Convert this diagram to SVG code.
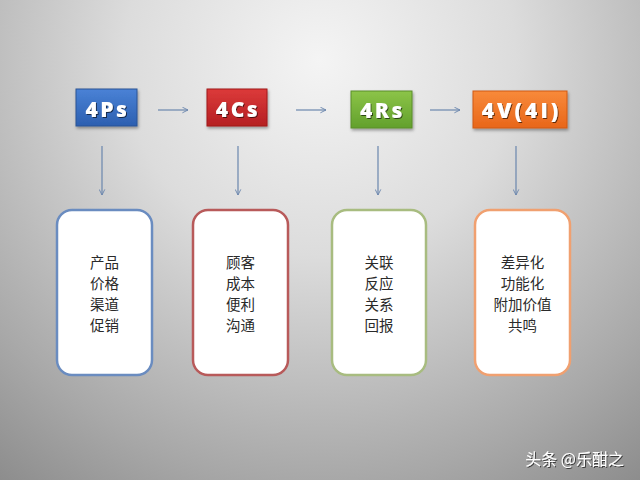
<svg xmlns="http://www.w3.org/2000/svg" width="640" height="480" viewBox="0 0 640 480">
<defs>
<radialGradient id="bg" cx="320" cy="60" r="560" gradientUnits="userSpaceOnUse">
<stop offset="0" stop-color="#f4f4f4"/>
<stop offset="0.35" stop-color="#dcdcdc"/>
<stop offset="0.75" stop-color="#a8a8a8"/>
<stop offset="1" stop-color="#858585"/>
</radialGradient>
<linearGradient id="gBlue" x1="0" y1="0" x2="0" y2="1"><stop offset="0" stop-color="#4a82d6"/><stop offset="1" stop-color="#2c5fb0"/></linearGradient>
<linearGradient id="gRed" x1="0" y1="0" x2="0" y2="1"><stop offset="0" stop-color="#dc3a3a"/><stop offset="1" stop-color="#b51f22"/></linearGradient>
<linearGradient id="gGreen" x1="0" y1="0" x2="0" y2="1"><stop offset="0" stop-color="#8cc448"/><stop offset="1" stop-color="#62a02c"/></linearGradient>
<linearGradient id="gOrange" x1="0" y1="0" x2="0" y2="1"><stop offset="0" stop-color="#f88a3a"/><stop offset="1" stop-color="#e8661a"/></linearGradient>
<filter id="sh" x="-20%" y="-20%" width="140%" height="150%"><feDropShadow dx="1" dy="2" stdDeviation="1.5" flood-color="#000" flood-opacity="0.35"/></filter>
<filter id="tsh" x="-20%" y="-20%" width="140%" height="160%"><feDropShadow dx="1" dy="1" stdDeviation="0.6" flood-color="#000" flood-opacity="0.6"/></filter>
<marker id="ah" viewBox="0 0 10 10" refX="9" refY="5" markerWidth="7" markerHeight="7" orient="auto" markerUnits="userSpaceOnUse">
<path d="M1,1 L9,5 L1,9" fill="none" stroke="#6a86ad" stroke-width="1.3"/>
</marker>
<style>
.hd{font-family:"Open Sans","DejaVu Sans",sans-serif;font-weight:800;font-size:21px;letter-spacing:2.5px;fill:#fff;text-anchor:middle;}
.card{fill:#fff;stroke-width:2.5;}
.ct{font-family:"Noto Sans CJK SC",sans-serif;font-size:14.5px;fill:#2a2a2a;text-anchor:middle;}
.ar{stroke:#6a86ad;stroke-width:1.2;fill:none;marker-end:url(#ah);}
</style>
</defs>
<rect width="640" height="480" fill="url(#bg)"/>

<g id="node-4ps">
<rect x="76" y="89" width="61" height="37" fill="url(#gBlue)" stroke="#2a5494" stroke-width="1" filter="url(#sh)"/>
<text class="hd" x="107.5" y="116.5" filter="url(#tsh)">4Ps</text>
</g>
<g id="node-4cs">
<rect x="207" y="89" width="60" height="37" fill="url(#gRed)" stroke="#a01a1c" stroke-width="1" filter="url(#sh)"/>
<text class="hd" x="238" y="116.5" filter="url(#tsh)">4Cs</text>
</g>
<g id="node-4rs">
<rect x="351" y="91" width="61" height="37" fill="url(#gGreen)" stroke="#5a8e2a" stroke-width="1" filter="url(#sh)"/>
<text class="hd" x="382.5" y="118" filter="url(#tsh)">4Rs</text>
</g>
<g id="node-4v">
<rect x="473" y="91" width="94" height="37" fill="url(#gOrange)" stroke="#d05a14" stroke-width="1" filter="url(#sh)"/>
<text class="hd" x="521.5" y="118" filter="url(#tsh)" style="letter-spacing:3px">4V(4I)</text>
</g>

<g id="connectors">
<line class="ar" x1="158" y1="110" x2="188" y2="110"/>
<line class="ar" x1="296" y1="110" x2="326" y2="110"/>
<line class="ar" x1="430" y1="110" x2="460" y2="110"/>
<line class="ar" x1="102" y1="146" x2="102" y2="195"/>
<line class="ar" x1="238" y1="146" x2="238" y2="195"/>
<line class="ar" x1="378" y1="146" x2="378" y2="195"/>
<line class="ar" x1="516" y1="146" x2="516" y2="195"/>
</g>

<g id="card-4ps">
<rect class="card" x="57" y="210" width="95" height="165" rx="15" stroke="#6a8cc0"/>
<text class="ct" y="268"><tspan x="104.5">产品</tspan><tspan x="104.5" dy="21">价格</tspan><tspan x="104.5" dy="21">渠道</tspan><tspan x="104.5" dy="21">促销</tspan></text>
</g>
<g id="card-4cs">
<rect class="card" x="193" y="210" width="95" height="165" rx="15" stroke="#b85a5a"/>
<text class="ct" y="268"><tspan x="240.5">顾客</tspan><tspan x="240.5" dy="21">成本</tspan><tspan x="240.5" dy="21">便利</tspan><tspan x="240.5" dy="21">沟通</tspan></text>
</g>
<g id="card-4rs">
<rect class="card" x="332" y="210" width="94" height="165" rx="15" stroke="#a8bc80"/>
<text class="ct" y="268"><tspan x="379">关联</tspan><tspan x="379" dy="21">反应</tspan><tspan x="379" dy="21">关系</tspan><tspan x="379" dy="21">回报</tspan></text>
</g>
<g id="card-4v">
<rect class="card" x="475" y="210" width="95" height="165" rx="15" stroke="#f0a070"/>
<text class="ct" y="268"><tspan x="522.5">差异化</tspan><tspan x="522.5" dy="21">功能化</tspan><tspan x="522.5" dy="21">附加价值</tspan><tspan x="522.5" dy="21">共鸣</tspan></text>
</g>

<text x="624" y="465" font-family="Noto Sans CJK SC,sans-serif" font-size="16" fill="#fff" text-anchor="end" filter="url(#tsh)">头条 @乐酣之</text>
</svg>
